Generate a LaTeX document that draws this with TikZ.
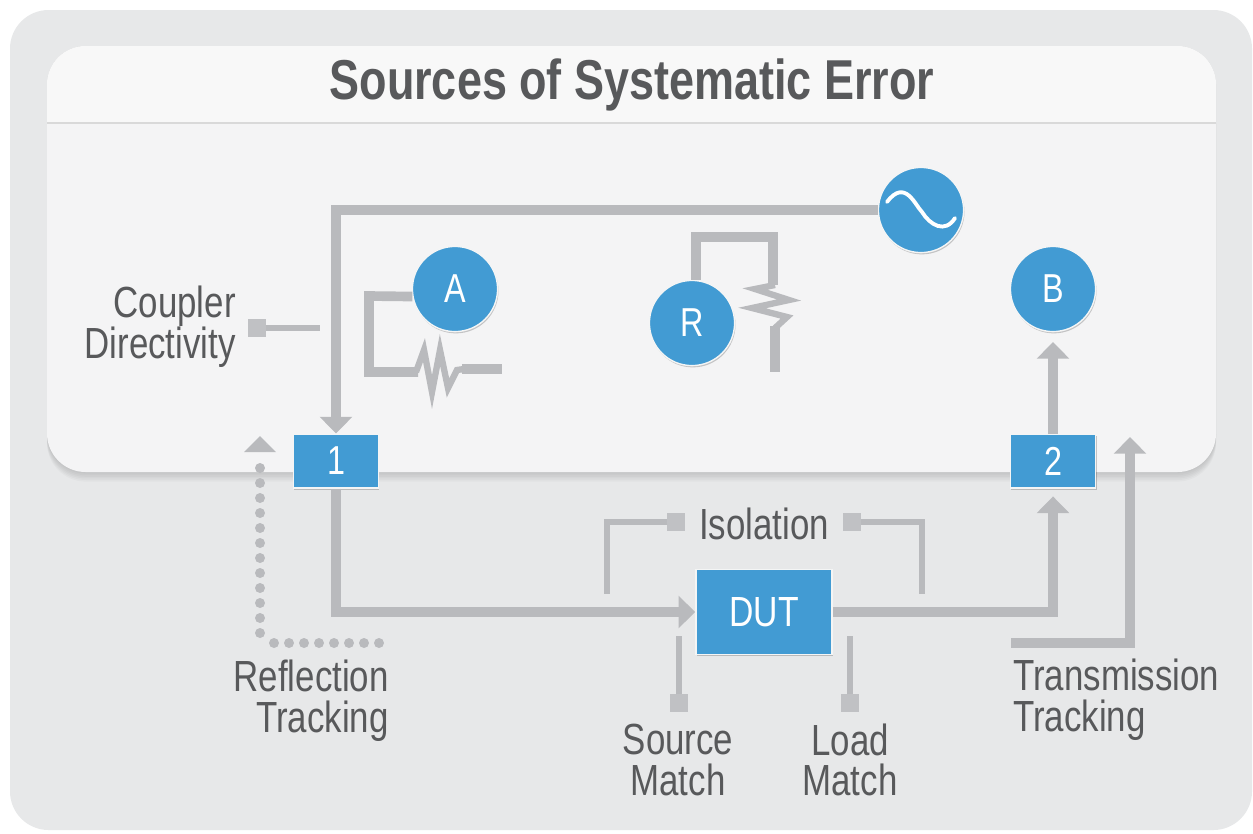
\documentclass[tikz,border=0pt]{standalone}
\usepackage{fontspec}
\setmainfont[FakeStretch=0.8]{Liberation Sans}
\usetikzlibrary{arrows.meta,shadows}

\definecolor{wiregray}{HTML}{B9BABD}
\definecolor{bluefill}{HTML}{429BD3}
\definecolor{textgray}{HTML}{58595B}
\definecolor{outerbg}{HTML}{E7E8E9}
\definecolor{panelbg}{HTML}{F4F4F5}
\definecolor{bandbg}{HTML}{F8F8F8}

\tikzset{
  wire/.style={draw=wiregray, line width=5.5pt},
  thinwire/.style={draw=wiregray, line width=3pt},
  zigzag/.style={draw=wiregray, line width=3.6pt, miter limit=6},
  tip/.style={-{Triangle[width=18pt,length=9.5pt]}},
  marker/.style={fill=wiregray!90!white, minimum size=9.8pt, inner sep=0pt},
  blob/.style={draw=white!85!wiregray, line width=.8pt, fill=bluefill, text=white, inner sep=0pt,
    drop shadow={shadow xshift=.5pt, shadow yshift=-1pt, fill=black, opacity=.2}},
  meter/.style={blob, circle, minimum size=48.5pt, font=\fontsize{23}{26}\selectfont},
  port/.style={blob, rectangle, minimum width=48.5pt, minimum height=30.5pt, font=\fontsize{23}{26}\selectfont},
  lab/.style={text=textgray, inner sep=0pt, font=\fontsize{24.8}{23.2}\selectfont}
}

\begin{document}
\begin{tikzpicture}[x=0.02cm, y=-0.02cm]
\useasboundingbox (0,0) rectangle (1253,833);

% panels
\fill[white] (0,0) rectangle (1253,833);
\fill[outerbg, rounded corners=22pt] (10,10) rectangle (1252,830);
\foreach \g in {1,...,6} {
  \fill[black, opacity=.025, rounded corners=22pt] (47,46) rectangle (1216,{472+\g*1.6});
}
\fill[panelbg, rounded corners=22pt] (47,46) rectangle (1216,472);
\fill[bandbg] (47,123) [rounded corners=22pt] -- (47,46) -- (1216,46) [sharp corners] -- (1216,123) -- cycle;
\draw[black!15, line width=.8pt] (47,123) -- (1216,123);

\node[font=\fontsize{32}{36}\selectfont\bfseries, text=textgray, inner sep=0pt] (title) at (632,85) {Sources of Systematic Error};

% instruments
\node[meter] (src) at (921,210) {};
\node[meter] (A) at (455,289) {A};
\node[meter] (R) at (692,323) {R};
\node[meter] (B) at (1053,289) {B};
\node[port] (port1) at (336,461) {1};
\node[port] (port2) at (1053,461) {2};
\node[port, minimum width=77.5pt, minimum height=48.5pt, font=\fontsize{24}{28}\selectfont] (dut) at (764,612) {DUT};
\draw[white, line width=2.2pt, line cap=round] (887,202) .. controls (905,178) and (915,205) .. (922,212) .. controls (930,225) and (945,234) .. (955,218);

% main signal path
\draw[wire, tip] (src) -| (port1);
\draw[wire, tip] (port1) |- (dut);
\draw[wire, tip, shorten >=4.5pt] (dut) -| (port2);
\draw[wire, tip, shorten >=5.5pt] (port2) -- (B);

% labels
\node[lab, align=right, anchor=east] (coupler) at (236,327) {Coupler\\Directivity};
\node[lab, align=right, anchor=east] (reflect) at (389,701) {Reflection\\Tracking};
\node[lab, align=left, anchor=west] (transm) at (1013,700) {Transmission\\Tracking};
\node[lab] (iso) at (764,524) {Isolation};
\node[lab, align=center] (srcmatch) at (678,760) {Source\\Match};
\node[lab, align=center] (loadmatch) at (850,760) {Load\\Match};

% error markers
\node[marker] (mDir) at (257,328) {};
\node[marker] (mIsoL) at (676,522) {};
\node[marker] (mIsoR) at (852,522) {};
\node[marker] (mSrc) at (679,703) {};
\node[marker] (mLoad) at (850,703) {};
\coordinate (dirEnd) at (320,328);
\coordinate (isoLEnd) at (607,594);
\coordinate (isoREnd) at (922,594);
\coordinate (srcEnd) at (679,636);
\coordinate (loadEnd) at (850,636);
\draw[thinwire] (mDir) -- (dirEnd);
\draw[thinwire] (mIsoL) -| (isoLEnd);
\draw[thinwire] (mIsoR) -| (isoREnd);
\draw[thinwire] (mSrc) -- (srcEnd);
\draw[thinwire] (mLoad) -- (loadEnd);

% transmission tracking
\coordinate (transStart) at (1011,643);
\coordinate (transTip) at (1130,437);
\draw[wire, tip] (transStart) -| (transTip);

% reflection tracking
\foreach \x in {274,289,...,382} { \fill[wiregray] (\x,643) circle (5); }
\foreach \y in {633,618,...,455} { \fill[wiregray] (260,\y) circle (5); }
\fill[wiregray] (260,436) -- (276,452) -- (244,452) -- cycle;

% terminations
\draw[wire, line join=miter] (A.190) -- (369,296) -- (369,372) -- (418,372);
\draw[zigzag] (416,372) -- (424,350) -- (432,392) -- (440,350) -- (448,388) -- (457,370) -- (464,369);
\draw[wire] (462,369) -- (502,369);
\draw[wire] (R.85) |- (773,237) -- (773,285);
\draw[zigzag] (775,285) -- (755,289) -- (789,300) -- (752,308) -- (787,317) -- (775,328);
\draw[wire] (775,326) -- (775,372);

\end{tikzpicture}
\end{document}
